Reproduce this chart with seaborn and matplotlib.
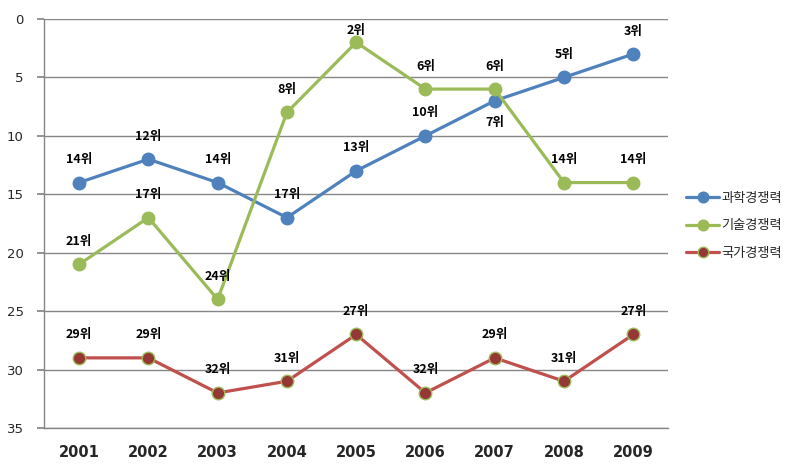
import matplotlib
matplotlib.use("Agg")
import matplotlib.pyplot as plt
import seaborn as sns
import pandas as pd

years = ["2001", "2002", "2003", "2004", "2005", "2006", "2007", "2008", "2009"]
series_names = ["과학경쟁력", "기술경쟁력", "국가경쟁력"]
science = [14, 12, 14, 17, 13, 10, 7, 5, 3]
tech = [21, 17, 24, 8, 2, 6, 6, 14, 14]
nation = [29, 29, 32, 31, 27, 32, 29, 31, 27]
yticks = [0, 5, 10, 15, 20, 25, 30, 35]

sns.set_theme(style="white")
plt.rcParams['font.family'] = ['Noto Sans CJK KR', 'DejaVu Sans']

rows = []
for name, vals in zip(series_names, [science, tech, nation]):
    for i, (yr, v) in enumerate(zip(years, vals)):
        rows.append({"idx": i, "year": yr, "rank": v, "series": name})
df = pd.DataFrame(rows)

line_colors = {"과학경쟁력": "#4F81BD", "기술경쟁력": "#9BBB59", "국가경쟁력": "#C0504D"}
marker_face = {"과학경쟁력": "#4F81BD", "기술경쟁력": "#9BBB59", "국가경쟁력": "#953735"}
marker_edge = {"과학경쟁력": "#4F81BD", "기술경쟁력": "#9BBB59", "국가경쟁력": "#9BBB59"}

fig = plt.figure(figsize=(7.98, 4.68), dpi=100)
ax = fig.add_axes([0.0557, 0.0855, 0.7813, 0.874])

for name in series_names:
    sub = df[df.series == name]
    sns.lineplot(data=sub, x="idx", y="rank", ax=ax, color=line_colors[name],
                 linewidth=2.3, marker="o", markersize=9,
                 markerfacecolor=marker_face[name], markeredgecolor=marker_edge[name],
                 markeredgewidth=1, label=name, zorder=3)

# labels
for name, vals in zip(series_names, [science, tech, nation]):
    for i, v in enumerate(vals):
        dy = 23
        if name == "과학경쟁력" and i == 6:
            dy = -22
        if name == "기술경쟁력" and i == 4:
            dy = 12
        ax.annotate(f"{v}위", (i, v), xytext=(0, dy), textcoords="offset pixels",
                    ha="center", va="center", fontsize=9, fontweight="bold", color="black")

ax.set_xlim(-0.5, len(years) - 0.5)
ax.set_ylim(35, 0)
ax.set_yticks(yticks)
ax.set_xticks(range(len(years)))
ax.set_xticklabels(years, fontsize=10.5, fontweight="bold", family=['DejaVu Sans'])
ax.tick_params(axis="y", labelsize=9.5, length=5, color="#868686", left=True, pad=10)
ax.tick_params(axis="x", length=0, pad=12)
ax.set_xlabel("")
ax.set_ylabel("")
ax.yaxis.grid(True, color="#868686", linewidth=1)
for s in ["top", "right"]:
    ax.spines[s].set_visible(False)
ax.spines["left"].set_color("#868686")
ax.spines["bottom"].set_color("#868686")
ax.spines["left"].set_linewidth(1)
ax.spines["bottom"].set_linewidth(1)
for lbl in ax.get_yticklabels():
    lbl.set_family(['DejaVu Sans'])

leg = ax.legend(loc="center left", bbox_to_anchor=(1.01, 0.494), frameon=False,
                fontsize=9.5, handlelength=2.5, labelspacing=1.1, handletextpad=0.2,
                markerscale=0.85)

fig.savefig("out.png", dpi=100)
